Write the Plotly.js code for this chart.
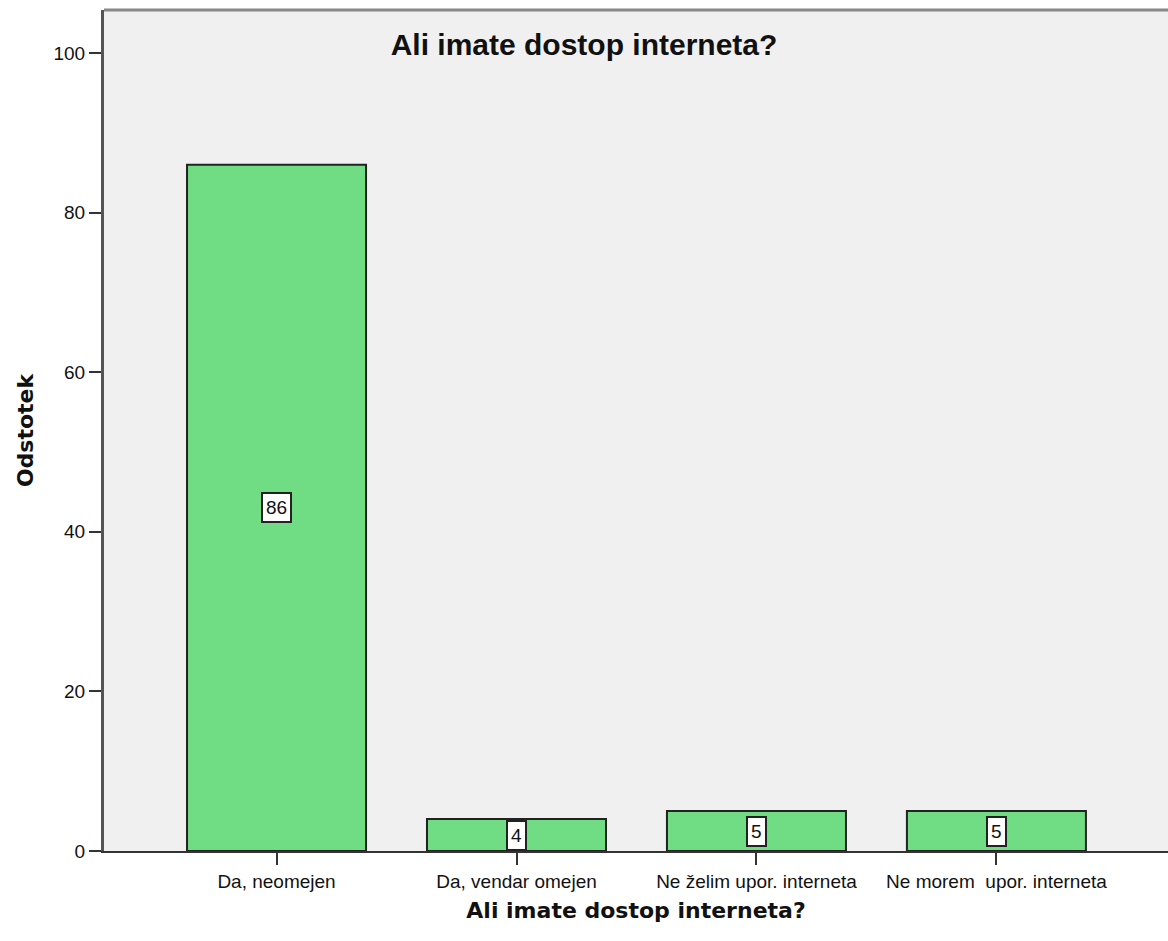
<!DOCTYPE html>
<html>
<head>
<meta charset="utf-8">
<script src="https://cdn.plot.ly/plotly-3.0.1.min.js"></script>
<style>html,body{margin:0;padding:0;background:#fff;}#chart{width:1168px;height:941px;}</style>
</head>
<body>
<div id="chart"></div>
<script>
const categories = ["Da, neomejen", "Da, vendar omejen", "Ne želim upor. interneta", "Ne morem  upor. interneta"];
const percents = [86, 4, 5, 5];
const labels = ["86", "4", "5", "5"];
const yTicks = [0, 20, 40, 60, 80, 100];

const trace = {
  type: 'bar',
  x: [0, 1, 2, 3],
  y: percents,
  width: 0.746,
  marker: {color: '#70dc84', line: {color: '#222', width: 2}},
  hoverinfo: 'none'
};

const annotations = percents.map((v, i) => ({
  x: i, y: v / 2, xref: 'x', yref: 'y',
  text: labels[i], showarrow: false,
  font: {family: 'Liberation Sans, Arial, sans-serif', size: 19, color: '#111'},
  bgcolor: '#ffffff', bordercolor: '#222', borderwidth: 2, borderpad: 3
}));

const layout = {
  width: 1168, height: 941,
  margin: {l: 104, r: 0, t: 10, b: 90},
  paper_bgcolor: '#ffffff',
  plot_bgcolor: '#f0f0f0',
  showlegend: false,
  title: {
    text: 'Ali imate dostop interneta?',
    xref: 'container', x: 0.5, xanchor: 'center',
    yref: 'container', y: 1 - 44/941, yanchor: 'middle',
    font: {family: 'Liberation Sans, Arial, sans-serif', size: 30, color: '#111', weight: 'bold'}
  },
  xaxis: {
    range: [-0.719, 3.715],
    tickmode: 'array', tickvals: [0, 1, 2, 3], ticktext: categories,
    ticks: 'outside', ticklen: 12, tickwidth: 2, tickcolor: '#333',
    showline: true, linecolor: '#333', linewidth: 2,
    showgrid: false, zeroline: false,
    tickfont: {family: 'Liberation Sans, Arial, sans-serif', size: 19, color: '#111'},
    title: {text: 'Ali imate dostop interneta?', standoff: 12,
      font: {family: 'DejaVu Sans, sans-serif', size: 22, color: '#111', weight: 'bold'}}
  },
  yaxis: {
    range: [0, 105.4],
    tickmode: 'array', tickvals: yTicks, ticktext: yTicks.map(String),
    ticks: 'outside', ticklen: 12, tickwidth: 2, tickcolor: '#333',
    showline: true, linecolor: '#555', linewidth: 3,
    showgrid: false, zeroline: false,
    tickfont: {family: 'Liberation Sans, Arial, sans-serif', size: 19, color: '#111'},
    title: {text: 'Odstotek', standoff: 14,
      font: {family: 'DejaVu Sans, sans-serif', size: 22, color: '#111', weight: 'bold'}}
  },
  shapes: [{
    type: 'line', xref: 'paper', yref: 'paper', x0: 0, x1: 1, y0: 1, y1: 1,
    line: {color: '#888', width: 3}
  }],
  annotations: annotations
};

Plotly.newPlot('chart', [trace], layout, {staticPlot: true, displayModeBar: false});
</script>
</body>
</html>
